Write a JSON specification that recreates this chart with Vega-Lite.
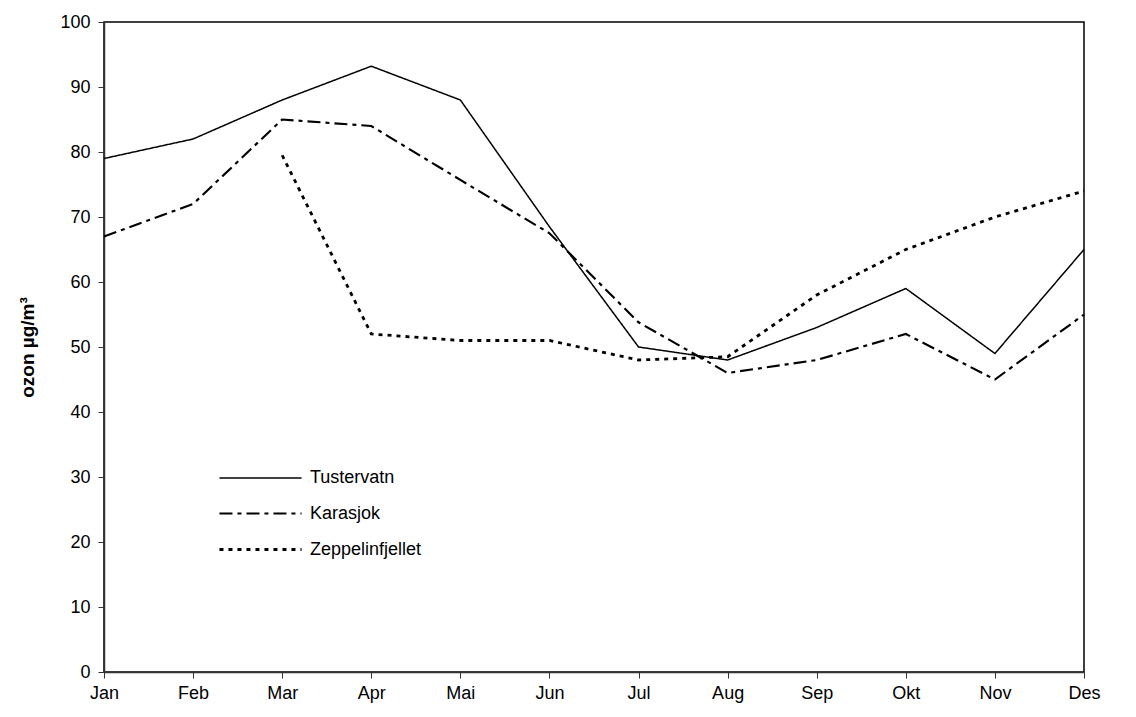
{
  "$schema": "https://vega.github.io/schema/vega-lite/v6.json",
  "width": 980,
  "height": 650,
  "autosize": "none",
  "padding": {"left": 104, "top": 22, "right": 52, "bottom": 45},
  "background": "white",
  "config": {
    "font": "Liberation Sans",
    "view": {"stroke": "black", "strokeWidth": 1.5}
  },
  "data": {
    "values": [
      {"month": "Jan", "station": "Tustervatn", "ozon": 79},
      {"month": "Feb", "station": "Tustervatn", "ozon": 82},
      {"month": "Mar", "station": "Tustervatn", "ozon": 88},
      {"month": "Apr", "station": "Tustervatn", "ozon": 93.2},
      {"month": "Mai", "station": "Tustervatn", "ozon": 88},
      {"month": "Jun", "station": "Tustervatn", "ozon": 68.5},
      {"month": "Jul", "station": "Tustervatn", "ozon": 50},
      {"month": "Aug", "station": "Tustervatn", "ozon": 48},
      {"month": "Sep", "station": "Tustervatn", "ozon": 53},
      {"month": "Okt", "station": "Tustervatn", "ozon": 59},
      {"month": "Nov", "station": "Tustervatn", "ozon": 49},
      {"month": "Des", "station": "Tustervatn", "ozon": 65},
      {"month": "Jan", "station": "Karasjok", "ozon": 67},
      {"month": "Feb", "station": "Karasjok", "ozon": 72},
      {"month": "Mar", "station": "Karasjok", "ozon": 85},
      {"month": "Apr", "station": "Karasjok", "ozon": 84},
      {"month": "Mai", "station": "Karasjok", "ozon": 75.7},
      {"month": "Jun", "station": "Karasjok", "ozon": 67.5},
      {"month": "Jul", "station": "Karasjok", "ozon": 53.8},
      {"month": "Aug", "station": "Karasjok", "ozon": 46},
      {"month": "Sep", "station": "Karasjok", "ozon": 48},
      {"month": "Okt", "station": "Karasjok", "ozon": 52},
      {"month": "Nov", "station": "Karasjok", "ozon": 45},
      {"month": "Des", "station": "Karasjok", "ozon": 55},
      {"month": "Mar", "station": "Zeppelinfjellet", "ozon": 79.5},
      {"month": "Apr", "station": "Zeppelinfjellet", "ozon": 52},
      {"month": "Mai", "station": "Zeppelinfjellet", "ozon": 51},
      {"month": "Jun", "station": "Zeppelinfjellet", "ozon": 51},
      {"month": "Jul", "station": "Zeppelinfjellet", "ozon": 48},
      {"month": "Aug", "station": "Zeppelinfjellet", "ozon": 48.5},
      {"month": "Sep", "station": "Zeppelinfjellet", "ozon": 58},
      {"month": "Okt", "station": "Zeppelinfjellet", "ozon": 65},
      {"month": "Nov", "station": "Zeppelinfjellet", "ozon": 70},
      {"month": "Des", "station": "Zeppelinfjellet", "ozon": 74}
    ]
  },
  "mark": {"type": "line", "color": "black", "strokeCap": "butt"},
  "encoding": {
    "x": {
      "field": "month", "type": "ordinal",
      "sort": ["Jan","Feb","Mar","Apr","Mai","Jun","Jul","Aug","Sep","Okt","Nov","Des"],
      "scale": {"type": "point", "padding": 0},
      "axis": {"title": null, "labelAngle": 0, "tickSize": 6, "labelPadding": 6, "domainWidth": 1.5, "grid": false,
        "domainColor": "#333", "tickColor": "#333", "labelColor": "black", "labelFontSize": 18, "labelFont": "Liberation Sans"}
    },
    "y": {
      "field": "ozon", "type": "quantitative",
      "scale": {"domain": [0, 100], "nice": false},
      "axis": {"title": "ozon µg/m³", "titleFontSize": 19, "titleFontWeight": "bold", "titleFont": "Liberation Sans", "titleColor": "black",
        "titleX": -67, "titleY": 325,
        "values": [0,10,20,30,40,50,60,70,80,90,100], "labelOverlap": false, "tickSize": 6, "labelPadding": 8, "domainWidth": 1.5, "grid": false,
        "domainColor": "#333", "tickColor": "#333", "labelColor": "black", "labelFontSize": 18, "labelFont": "Liberation Sans"}
    },
    "strokeDash": {
      "field": "station", "type": "nominal",
      "scale": {"domain": ["Tustervatn", "Karasjok", "Zeppelinfjellet"], "range": [[1, 0], [13, 5, 4, 5], [4, 5]]},
      "legend": {
        "title": null, "orient": "none", "legendX": 137, "legendY": 437, "padding": 0,
        "symbolType": "M-2.28,0H2.28", "symbolSize": 1296, "symbolStrokeColor": "black", "symbolFillColor": "transparent",
        "labelFontSize": 18, "labelFont": "Liberation Sans", "labelColor": "black",
        "rowPadding": 7, "labelOffset": 30
      }
    },
    "strokeWidth": {
      "field": "station", "type": "nominal",
      "scale": {"domain": ["Tustervatn", "Karasjok", "Zeppelinfjellet"], "range": [1.5, 2.8, 2.5]},
      "legend": null
    }
  }
}
